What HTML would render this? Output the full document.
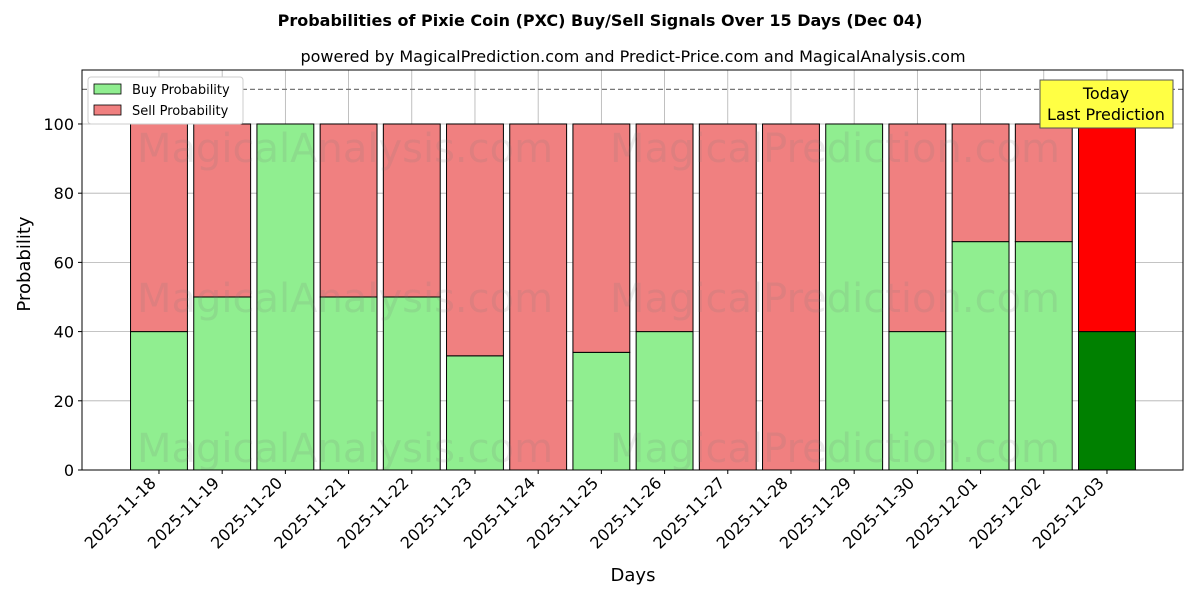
<!DOCTYPE html>
<html><head><meta charset="utf-8"><style>
body{margin:0;background:#fff;font-family:"Liberation Sans","DejaVu Sans",sans-serif;}
</style></head><body>
<svg id="chart" width="1200" height="600" xmlns="http://www.w3.org/2000/svg">
<text x="600" y="26" text-anchor="middle" font-size="16" font-weight="bold" font-family="DejaVu Sans, sans-serif">Probabilities of Pixie Coin (PXC) Buy/Sell Signals Over 15 Days (Dec 04)</text>
<text x="633" y="62" text-anchor="middle" font-size="16" font-family="DejaVu Sans, sans-serif">powered by MagicalPrediction.com and Predict-Price.com and MagicalAnalysis.com</text>
<g id="grid"></g>
<g id="bars"></g>
<g id="wm" font-size="40" fill="rgba(120,120,120,0.15)" font-family="DejaVu Sans, sans-serif">
<text x="345" y="162" text-anchor="middle">MagicalAnalysis.com</text>
<text x="835" y="162" text-anchor="middle">MagicalPrediction.com</text>
<text x="345" y="312" text-anchor="middle">MagicalAnalysis.com</text>
<text x="835" y="312" text-anchor="middle">MagicalPrediction.com</text>
<text x="345" y="462" text-anchor="middle">MagicalAnalysis.com</text>
<text x="835" y="462" text-anchor="middle">MagicalPrediction.com</text>
</g>
<line x1="82" y1="89.4" x2="1183" y2="89.4" stroke="#777" stroke-dasharray="5,3" stroke-width="1.2"/>
<rect x="82" y="70" width="1101" height="400" fill="none" stroke="#000" stroke-width="1"/>
<g id="axes"></g>
<text x="36" y="270" transform="rotate(-90 30 270)" text-anchor="middle" font-size="18" font-family="DejaVu Sans, sans-serif">Probability</text>
<text x="633" y="581" text-anchor="middle" font-size="18" font-family="DejaVu Sans, sans-serif">Days</text>
<g>
<rect x="88" y="77" width="155" height="47" fill="#fff" stroke="#ccc" rx="3"/>
<rect x="94" y="84" width="27" height="10" fill="#90ee90" stroke="#000" stroke-width="0.8"/>
<text x="132" y="94" font-size="13" font-family="DejaVu Sans, sans-serif">Buy Probability</text>
<rect x="94" y="105" width="27" height="10" fill="#f08080" stroke="#000" stroke-width="0.8"/>
<text x="132" y="115" font-size="13" font-family="DejaVu Sans, sans-serif">Sell Probability</text>
</g>
<g>
<rect x="1040" y="80" width="133" height="48" fill="#ffff44" stroke="#555"/>
<text x="1106" y="99" text-anchor="middle" font-size="16" font-family="DejaVu Sans, sans-serif">Today</text>
<text x="1106" y="120" text-anchor="middle" font-size="16" font-family="DejaVu Sans, sans-serif">Last Prediction</text>
</g>
</svg>
<script>
const days=["2025-11-18","2025-11-19","2025-11-20","2025-11-21","2025-11-22","2025-11-23","2025-11-24","2025-11-25","2025-11-26","2025-11-27","2025-11-28","2025-11-29","2025-11-30","2025-12-01","2025-12-02","2025-12-03"];
const buyValues=[40,50,100,50,50,33,0,34,40,0,0,100,40,66,66,40];
const sellValues=[60,50,0,50,50,67,100,66,60,100,100,0,60,34,34,60];
const yTicks=[0,20,40,60,80,100];
const NS="http://www.w3.org/2000/svg";
const L=82,R=1183,T=70,B=470,ymax=115.6,xmin=-1.218,xmax=16.203;
const xs=i=>L+(i-xmin)/(xmax-xmin)*(R-L);
const ys=v=>B-v/ymax*(B-T);
const bw=0.9*(R-L)/(xmax-xmin);
function mk(tag,attrs,parent){const e=document.createElementNS(NS,tag);for(const k in attrs)e.setAttribute(k,attrs[k]);parent.appendChild(e);return e;}
const grid=document.getElementById('grid'),bars=document.getElementById('bars'),axes=document.getElementById('axes');
yTicks.forEach(t=>{
 const g=mk('line',{x1:L,x2:R,y1:ys(t),y2:ys(t),stroke:'#b0b0b0','stroke-width':0.8},grid);
 
 
 mk('line',{x1:L-4,x2:L,y1:ys(t),y2:ys(t),stroke:'#000'},axes);
 const tx=mk('text',{x:L-8,y:ys(t)+6,'text-anchor':'end','font-size':16,'font-family':'DejaVu Sans, sans-serif'},axes);
 tx.textContent=t;
 
 
});
days.forEach((d,i)=>{
 const x=xs(i);
 const g=mk('line',{x1:x,x2:x,y1:T,y2:B,stroke:'#b0b0b0','stroke-width':0.8},grid);
 
 
 const last=i===days.length-1;
 const b=mk('rect',{x:x-bw/2,y:ys(buyValues[i]),width:bw,height:ys(0)-ys(buyValues[i]),fill:last?'#008000':'#90ee90',stroke:'#000','stroke-width':1},bars);
 
 
 const s=mk('rect',{x:x-bw/2,y:ys(buyValues[i]+sellValues[i]),width:bw,height:ys(buyValues[i])-ys(buyValues[i]+sellValues[i]),fill:last?'#ff0000':'#f08080',stroke:'#000','stroke-width':1},bars);
 
 
 mk('line',{x1:x,x2:x,y1:B,y2:B+4,stroke:'#000'},axes);
 const ax=x-2, ay=B+14;
 const tx=mk('text',{x:ax,y:ay,'text-anchor':'end','font-size':16,'font-family':'DejaVu Sans, sans-serif',transform:`rotate(-45 ${ax} ${ay})`},axes);
 tx.textContent=d;
 
 
});
</script>
</body></html>
